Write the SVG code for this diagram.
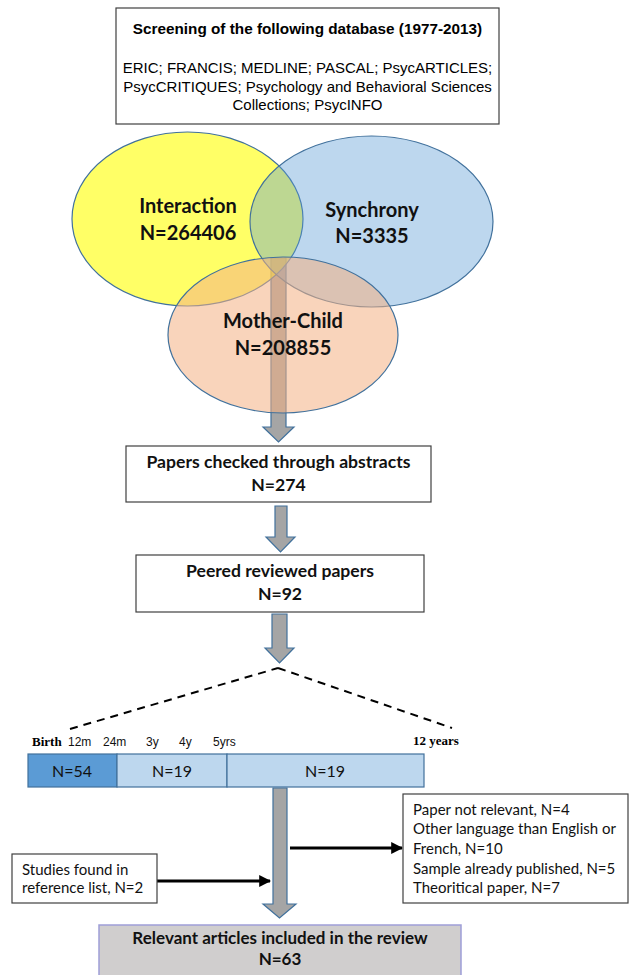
<svg xmlns="http://www.w3.org/2000/svg" width="629" height="975" viewBox="0 0 629 975">
<defs>
<style>
.box{fill:#fff;stroke:#404040;stroke-width:1.2}
.ar{fill:#a5a5a5;stroke:#41719c;stroke-width:1.2}
.ttl{font-family:"Liberation Sans",Arial,sans-serif;font-size:15.3px;font-weight:bold;fill:#000;text-anchor:middle}
.db{font-family:"Liberation Sans",Arial,sans-serif;font-size:15px;fill:#000;text-anchor:middle}
.venn{font-family:Lato,"Open Sans",sans-serif;font-size:20px;font-weight:bold;fill:#111;text-anchor:middle}
.bt{font-family:Lato,"Open Sans",sans-serif;font-size:17.6px;font-weight:bold;fill:#111;text-anchor:middle}
.bt2{font-family:Lato,"Open Sans",sans-serif;font-size:17px;font-weight:bold;fill:#111;text-anchor:middle}
.rt{font-family:Lato,"Open Sans",sans-serif;font-size:15px;fill:#111}
.bar{font-family:Lato,"Open Sans",sans-serif;font-size:16px;fill:#111;text-anchor:middle}
.tm{font-family:"Liberation Sans",Arial,sans-serif;font-size:12px;fill:#111}
.tb{font-family:"Liberation Serif","Times New Roman",serif;font-size:13px;font-weight:bold;fill:#000}
.blk{stroke:#000;stroke-width:3;fill:none}
.dash{stroke:#000;stroke-width:2;stroke-dasharray:8,6;fill:none}
</style>
<marker id="ah" viewBox="0 0 10 10" refX="9" refY="5" markerWidth="4" markerHeight="4" orient="auto" markerUnits="strokeWidth">
<path d="M0,0 L10,5 L0,10 Z" fill="#000"/>
</marker>
</defs>
<rect width="629" height="975" fill="#fff"/>

<g id="connectors">
<path id="arrow1" class="ar" d="M271,258 H286 V427 H294 L278.5,442 L263,427 H271 Z"/>
<path id="arrow2" class="ar" d="M275,506 H287 V537 H295 L280.5,552 L266,537 H275 Z"/>
<path id="arrow3" class="ar" d="M272,614 H287 V648 H294 L279.5,663 L265,648 H272 Z"/>
<path id="arrow4" class="ar" d="M273,788 H287 V904 H296 L279.5,918 L263,904 H273 Z"/>
<path id="dash-left" class="dash" d="M70,729 L278,668"/>
<path id="dash-right" class="dash" d="M278,668 L452,728"/>
<line id="arrow-excluded" class="blk" x1="290" y1="848" x2="402" y2="848" marker-end="url(#ah)"/>
<line id="arrow-added" class="blk" x1="157" y1="881" x2="270" y2="881" marker-end="url(#ah)"/>
</g>

<g id="screening">
<rect class="box" x="116" y="8" width="383" height="116"/>
<text class="ttl" x="307.5" y="34">Screening of the following database (1977-2013)</text>
<text class="db" x="307.5" y="73">ERIC; FRANCIS; MEDLINE; PASCAL; PsycARTICLES;</text>
<text class="db" x="307.5" y="91.5">PsycCRITIQUES; Psychology and Behavioral Sciences</text>
<text class="db" x="307.5" y="110">Collections; PsycINFO</text>
</g>

<g id="interaction">
<ellipse cx="187.5" cy="219" rx="115.5" ry="87" fill="#ffff00" fill-opacity="0.6" stroke="#41719c" stroke-width="1.2"/>
</g>
<g id="synchrony">
<ellipse cx="371.5" cy="221.5" rx="121.5" ry="85.5" fill="#5b9bd5" fill-opacity="0.4" stroke="#41719c" stroke-width="1.2"/>
</g>
<g id="mother-child">
<ellipse cx="283" cy="335" rx="115" ry="78" fill="#f4b183" fill-opacity="0.55" stroke="#41719c" stroke-width="1.2"/>
</g>
<g id="venn-labels">
<text class="venn" x="188" y="213">Interaction</text>
<text class="venn" x="188" y="240">N=264406</text>
<text class="venn" x="372" y="217">Synchrony</text>
<text class="venn" x="372" y="243">N=3335</text>
<text class="venn" x="283" y="328">Mother-Child</text>
<text class="venn" x="283" y="355">N=208855</text>
</g>

<g id="abstracts">
<rect class="box" x="126" y="446" width="305" height="56"/>
<text class="bt" x="278.5" y="468">Papers checked through abstracts</text>
<text class="bt" x="278.5" y="491">N=274</text>
</g>

<g id="peer-reviewed">
<rect class="box" x="136" y="555" width="288" height="57"/>
<text class="bt" x="280" y="577">Peered reviewed papers</text>
<text class="bt" x="280" y="600">N=92</text>
</g>

<g id="timeline-labels">
<text class="tb" x="32" y="746">Birth</text>
<text class="tm" x="68" y="746">12m</text>
<text class="tm" x="103" y="746">24m</text>
<text class="tm" x="146" y="746">3y</text>
<text class="tm" x="179" y="746">4y</text>
<text class="tm" x="213" y="746">5yrs</text>
<text class="tb" x="413" y="745">12 years</text>
</g>

<g id="timeline-bar">
<rect x="28" y="754" width="89" height="33" fill="#5b9bd5" stroke="#41719c" stroke-width="1.2"/>
<rect x="117" y="754" width="110" height="33" fill="#bdd7ee" stroke="#41719c" stroke-width="1.2"/>
<rect x="227" y="754" width="197" height="33" fill="#bdd7ee" stroke="#41719c" stroke-width="1.2"/>
<text class="bar" x="72" y="777">N=54</text>
<text class="bar" x="172" y="777">N=19</text>
<text class="bar" x="325" y="777">N=19</text>
</g>

<g id="excluded">
<rect class="box" x="403" y="794" width="225" height="109"/>
<text class="rt" x="413" y="815">Paper not relevant, N=4</text>
<text class="rt" x="413" y="834">Other language than English or</text>
<text class="rt" x="413" y="854">French, N=10</text>
<text class="rt" x="413" y="874">Sample already published, N=5</text>
<text class="rt" x="413" y="893">Theoritical paper, N=7</text>
</g>

<g id="reference-list">
<rect class="box" x="12" y="854" width="145" height="49"/>
<text class="rt" x="22" y="875">Studies found in</text>
<text class="rt" x="22" y="893">reference list, N=2</text>
</g>

<g id="included">
<rect x="99" y="925" width="362" height="55" fill="#d0cece" stroke="#9e9ed8" stroke-width="1.5"/>
<text class="bt2" x="280" y="944">Relevant articles included in the review</text>
<text class="bt2" x="280" y="965">N=63</text>
</g>
</svg>
